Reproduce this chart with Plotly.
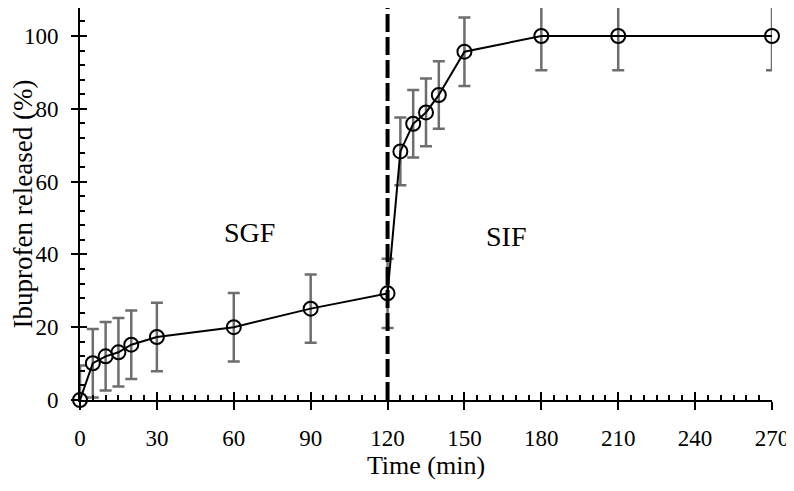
import plotly.graph_objects as go

time_min = [0, 5, 10, 15, 20, 30, 60, 90, 120, 125, 130, 135, 140, 150, 180, 210, 270]
released = [0, 10.1, 12.0, 13.1, 15.2, 17.3, 20.0, 25.1, 29.3, 68.3, 75.9, 79.0, 83.8, 95.7, 100, 100, 100]
err = [9.5, 9.4, 9.4, 9.4, 9.4, 9.4, 9.4, 9.4, 9.5, 9.3, 9.3, 9.3, 9.3, 9.4, 9.4, 9.4, 9.4]
x_ticks = [0, 30, 60, 90, 120, 150, 180, 210, 240, 270]
y_ticks = [0, 20, 40, 60, 80, 100]
switch_time = 120
phase_labels = ["SGF", "SIF"]
phase_x = [66.3, 166.2]
phase_y = [46.1, 44.8]

FONT = "Liberation Serif"

fig = go.Figure()
fig.add_trace(go.Scatter(
    x=time_min, y=released, mode="lines+markers",
    line=dict(color="black", width=2),
    marker=dict(symbol="circle-open", size=14, color="black", line=dict(width=2)),
    error_y=dict(type="data", array=err, visible=True, color="#6e6e6e", thickness=2.5, width=6),
    cliponaxis=False, showlegend=False,
))
fig.add_trace(go.Scatter(x=[0], y=[0], xaxis="x2", yaxis="y2", mode="markers",
                         marker=dict(opacity=0), showlegend=False, hoverinfo="skip"))

fig.add_shape(type="line", x0=switch_time, x1=switch_time, y0=0, y1=108,
              xref="x", yref="y", line=dict(color="black", width=4, dash="18px,5px"))

for t, xx, yy in zip(phase_labels, phase_x, phase_y):
    fig.add_annotation(x=xx, y=yy, text=t, showarrow=False,
                       font=dict(family=FONT, size=28, color="black"))

axis_common = dict(showgrid=False, zeroline=False, showline=True, linecolor="black",
                   linewidth=2, tickcolor="black", tickwidth=2)
YR = [0, 107.7]

fig.update_layout(
    width=794, height=491,
    margin=dict(l=72, r=30, t=0, b=99, autoexpand=False),
    plot_bgcolor="white", paper_bgcolor="white",
    font=dict(family=FONT, size=23, color="black"),
    xaxis=dict(range=[0, 270], tickvals=x_ticks, ticks="inside", ticklen=8,
               minor=dict(dtick=5, ticks="inside", ticklen=5, tickcolor="black", tickwidth=2),
               showticklabels=False, **axis_common),
    yaxis=dict(range=YR, tickvals=y_ticks, ticks="inside", ticklen=7,
               minor=dict(dtick=4, ticks="inside", ticklen=5, tickcolor="black", tickwidth=2),
               showticklabels=False, **axis_common),
    xaxis2=dict(overlaying="x", range=[0, 270], tickvals=x_ticks, ticks="outside", ticklen=8,
                side="bottom", anchor="y2",
                tickfont=dict(family=FONT, size=23), ticklabelstandoff=8,
                title=dict(text="Time (min)", font=dict(family=FONT, size=26), standoff=2),
                **axis_common),
    yaxis2=dict(overlaying="y", range=YR, tickvals=y_ticks, ticks="outside", ticklen=7,
                side="left", anchor="x2",
                tickfont=dict(family=FONT, size=23), ticklabelstandoff=8,
                title=dict(text="Ibuprofen released (%)", font=dict(family=FONT, size=27), standoff=9),
                **axis_common),
)

fig.write_html("out.html")
